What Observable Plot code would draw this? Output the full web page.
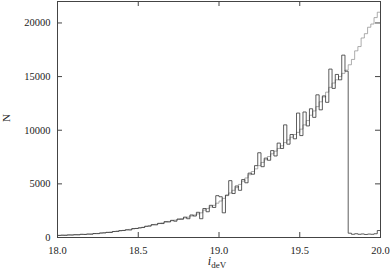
<!DOCTYPE html>
<html><head><meta charset="utf-8">
<script src="https://cdn.jsdelivr.net/npm/d3@7"></script>
<script src="https://cdn.jsdelivr.net/npm/@observablehq/plot@0.6"></script>
<style>
body{margin:0;background:#fff}
#c{position:relative;width:390px;height:272px;font-family:'Liberation Serif',serif;color:#222}
#c svg text{font-family:'Liberation Serif',serif !important;font-size:10.5px !important;fill:#222}
#xl{position:absolute;left:0;width:390px;top:254px;text-align:center;font-size:12px;padding-left:44px;box-sizing:border-box}
#xl sub{font-style:normal;font-size:9px;vertical-align:-3px}
#yl{position:absolute;left:2px;top:112px;font-size:11px;transform:rotate(-90deg);transform-origin:center}
</style>
</head><body><div id="c"><div id="xl"><i>i</i><sub>deV</sub></div><div id="yl">N</div></div>
<script>
const xTicks = [18.0, 18.5, 19.0, 19.5, 20.0];
const yTicks = [0, 5000, 10000, 15000, 20000];
const xStart = 18.0;
const binWidth = 0.02;
// measured histogram counts per bin (18.00 ... 19.98)
const counts = [
 190,215,205,240,230,
 260,250,300,280,320,
 310,370,360,420,430,
 480,470,560,570,640,
 650,720,700,830,840,
 900,930,1050,1060,1200,
 1180,1320,1300,1480,1450,
 1600,1520,1720,1700,1900,
 1750,2100,2000,2350,1750,
 2700,2400,3000,2800,3900,
 3800,2300,3950,5300,4100,
 4800,4400,5400,5100,6000,
 5900,6700,7900,6600,7400,
 7200,8100,7600,8800,8300,
 10500,8700,9600,9200,11600,
 9500,11700,10400,12000,11200,
 13300,11900,13200,12600,15700,
 13900,15200,14700,17000,15500,
 400,300,350,300,330,
 280,320,300,350,650
];
// expected (thin line) per bin
const expected = [
 200,210,220,235,245,
 255,270,285,300,315,
 330,355,380,410,440,
 470,510,550,590,630,
 670,710,760,810,850,
 900,960,1030,1100,1170,
 1230,1300,1360,1430,1500,
 1560,1620,1690,1760,1820,
 1900,2000,2100,2200,2300,
 2550,2700,2850,3000,3200,
 3400,3650,3900,4150,4400,
 4650,4950,5250,5550,5850,
 6150,6400,6700,7000,7250,
 7550,7800,8050,8300,8550,
 8850,9100,9350,9600,9800,
 10100,10500,10900,11400,11800,
 12200,12650,13100,13550,14000,
 14400,14700,15000,15300,15600,
 16100,16600,17400,17800,18600,
 19000,19600,19900,20500,21000
];

const W = 390, H = 272, mL = 57, mR = 10, mT = 1, mB = 35;
const innerW = W - mL - mR, innerH = H - mT - mB;
const toPts = arr => {
  const pts = arr.map((v, i) => ({x: xStart + i * binWidth, y: v}));
  pts.push({x: xStart + arr.length * binWidth, y: arr[arr.length - 1]});
  return pts;
};

const chart = Plot.plot({
  width: W, height: H,
  marginLeft: mL, marginRight: mR, marginTop: mT, marginBottom: mB,
  style: "font-family: 'Liberation Serif', serif; font-size: 10.5px; color: #222; background: #fff;",
  x: {domain: [18, 20]},
  y: {domain: [0, 22000]},
  marks: [
    Plot.line(toPts(expected), {x: "x", y: "y", curve: "step-after", stroke: "#8a8a8a", strokeWidth: 0.7}),
    Plot.line(toPts(counts), {x: "x", y: "y", curve: "step-after", stroke: "#333", strokeWidth: 0.8}),
    Plot.frame({stroke: "#444"}),
    Plot.axisX(xTicks, {anchor: "bottom", tickSize: 0, tickPadding: 9, tickFormat: d => d.toFixed(1), label: null}),
    Plot.axisY(yTicks, {anchor: "left", tickSize: 0, tickPadding: 7, tickFormat: d => String(d), label: null}),
    Plot.ruleX(xTicks, {x: d => d, insetTop: innerH - 5, stroke: "#444"}),
    Plot.ruleX(xTicks, {x: d => d, insetBottom: innerH - 5, stroke: "#444"}),
    Plot.ruleY(yTicks, {y: d => d, insetRight: innerW - 5, stroke: "#444"}),
    Plot.ruleY(yTicks, {y: d => d, insetLeft: innerW - 5, stroke: "#444"})
  ]
});
chart.style.position = "absolute";
chart.style.left = "0";
chart.style.top = "0";
document.getElementById("c").prepend(chart);
</script>
</body></html>
